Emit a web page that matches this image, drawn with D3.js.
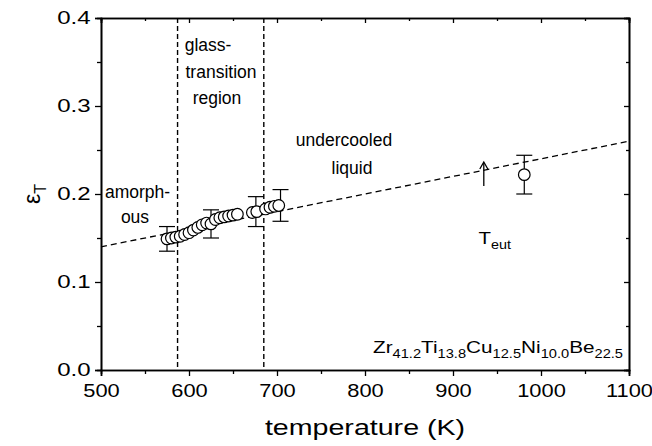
<!doctype html>
<html>
<head>
<meta charset="UTF-8">
<script src="https://d3js.org/d3.v7.min.js"></script>
<style>
	body { margin: 0; background: #fff; }
	svg text { font-family: "Liberation Sans", Arial, sans-serif; fill: #000; }
</style>
</head>
<body>
	<svg id="chartWrapper"></svg>

	<script>
		// measured points
		const temps = [575, 580, 585, 590, 595, 600, 605, 610, 615, 620, 625, 630, 635, 640, 645, 650, 655,
		               672, 677, 687, 692, 697, 702, 981];
		const eps   = [0.149, 0.150, 0.151, 0.152, 0.154, 0.156, 0.159, 0.162, 0.165, 0.167, 0.166, 0.171, 0.173, 0.174, 0.175, 0.176, 0.177,
		               0.179, 0.180, 0.183, 0.185, 0.186, 0.187, 0.222];
		// error bars: temperature, value, half width
		const errT   = [575, 625, 676, 704, 981];
		const errVal = [0.149, 0.166, 0.180, 0.187, 0.222];
		const errHalf = [0.014, 0.016, 0.017, 0.018, 0.022];
		// linear fit ends and region borders
		const fitT = [500, 1100];
		const fitEps = [0.140, 0.260];
		const borders = [587, 685];
		const xTicks = [500, 600, 700, 800, 900, 1000, 1100];
		const yTicks = [0.0, 0.1, 0.2, 0.3, 0.4];

		(function(){
			let margin = {top: 18, right: 23, bottom: 76, left: 101},
				width = 652 - margin.left - margin.right,
				height = 446 - margin.top - margin.bottom;

			let xSca = d3.scaleLinear().domain([500, 1100]).range([0, width]);
			let ySca = d3.scaleLinear().domain([0, 0.4]).range([height, 0]);

			let svg = d3.select("#chartWrapper")
						.attr("width", 652)
						.attr("height", 446);
			let chart = svg.append("g")
						.attr("transform", "translate(" + margin.left + "," + margin.top + ")");

			let minorX = d3.range(550, 1100, 100);
			let minorY = d3.range(0.05, 0.4, 0.1);

			// bottom axis
			let gx = chart.append("g")
				.attr("transform", "translate(0," + height + ")")
				.call(d3.axisBottom(xSca).tickValues(xTicks).tickSize(6).tickFormat(d3.format("d")));
			gx.append("g").call(d3.axisBottom(xSca).tickValues(minorX).tickSize(4).tickFormat(""));
			// left axis
			let gy = chart.append("g")
				.call(d3.axisLeft(ySca).tickValues(yTicks).tickSize(6).tickFormat(d3.format(".1f")));
			gy.append("g").call(d3.axisLeft(ySca).tickValues(minorY).tickSize(4).tickFormat(""));
			// top and right frame, ticks inside
			chart.append("g").call(d3.axisBottom(xSca).tickValues(xTicks).tickSize(5).tickFormat(""));
			chart.append("g").call(d3.axisBottom(xSca).tickValues(minorX).tickSize(3).tickFormat(""));
			chart.append("g").attr("transform", "translate(" + width + ",0)")
				.call(d3.axisLeft(ySca).tickValues(yTicks).tickSize(5).tickFormat(""));
			chart.append("g").attr("transform", "translate(" + width + ",0)")
				.call(d3.axisLeft(ySca).tickValues(minorY).tickSize(3).tickFormat(""));

			chart.selectAll(".domain").attr("stroke", "#000").attr("stroke-width", 1.6);
			chart.selectAll(".tick line").attr("stroke", "#000").attr("stroke-width", 1.3);
			gx.selectAll(".tick text").style("font-size", "17.5px").attr("transform", "scale(1.25,1)")
				.attr("y", 10).attr("dy", "0.95em");
			gy.selectAll(".tick text").style("font-size", "18.5px").attr("transform", "scale(1.3,1)")
				.attr("x", -8);

			// region borders
			chart.selectAll(".border")
				.data(borders)
				.enter().append("line")
				.attr("x1", d => xSca(d)).attr("x2", d => xSca(d))
				.attr("y1", 0).attr("y2", height)
				.attr("stroke", "#000").attr("stroke-width", 1.4)
				.attr("stroke-dasharray", "5,3");

			// fit line
			chart.append("line")
				.attr("x1", xSca(fitT[0])).attr("y1", ySca(fitEps[0]))
				.attr("x2", xSca(fitT[1])).attr("y2", ySca(fitEps[1]))
				.attr("stroke", "#000").attr("stroke-width", 1.3)
				.attr("stroke-dasharray", "6,4");

			// error bars
			let eb = chart.selectAll(".err")
				.data(errT.map((t, i) => [t, errVal[i], errHalf[i]]))
				.enter().append("g").attr("class", "err");
			eb.append("line")
				.attr("x1", d => xSca(d[0])).attr("x2", d => xSca(d[0]))
				.attr("y1", d => ySca(d[1] - d[2])).attr("y2", d => ySca(d[1] + d[2]))
				.attr("stroke", "#000").attr("stroke-width", 1.2);
			[-1, 1].forEach(s => {
				eb.append("line")
					.attr("x1", d => xSca(d[0]) - 8).attr("x2", d => xSca(d[0]) + 8)
					.attr("y1", d => ySca(d[1] + s * d[2])).attr("y2", d => ySca(d[1] + s * d[2]))
					.attr("stroke", "#000").attr("stroke-width", 1.2);
			});

			// points
			chart.selectAll(".pt")
				.data(temps.map((t, i) => [t, eps[i]]))
				.enter().append("circle")
				.attr("class", "pt")
				.attr("cx", d => xSca(d[0]))
				.attr("cy", d => ySca(d[1]))
				.attr("r", 5.8)
				.attr("fill", "#fff")
				.attr("stroke", "#000")
				.attr("stroke-width", 1.2);

			// annotations
			let note = function(x, y, txt, anchor){
				chart.append("text")
					.attr("x", x).attr("y", y)
					.attr("text-anchor", anchor || "start")
					.style("font-size", "17.5px")
					.text(txt);
			};
			note(4, 180, "amorph-");
			note(34, 205, "ous", "middle");
			note(107, 33, "glass-", "middle");
			note(120, 60, "transition", "middle");
			note(116, 86, "region", "middle");
			note(243, 128, "undercooled", "middle");
			note(251, 156, "liquid", "middle");

			// arrow pointing at the eutectic temperature
			let ax = xSca(935);
			chart.append("line")
				.attr("x1", ax).attr("x2", ax).attr("y1", 145).attr("y2", 168)
				.attr("stroke", "#000").attr("stroke-width", 1.3);
			chart.append("path")
				.attr("d", "M" + (ax - 4) + ",151 L" + ax + ",144 L" + (ax + 4) + ",151")
				.attr("fill", "none").attr("stroke", "#000").attr("stroke-width", 1.3);

			let teut = chart.append("text")
				.attr("transform", "translate(" + xSca(929) + ",226) scale(1.2,1)")
				.style("font-size", "17px");
			teut.append("tspan").text("T");
			teut.append("tspan").attr("dy", 5).style("font-size", "12px").text("eut");

			let alloy = chart.append("text")
				.attr("transform", "translate(" + (width - 6) + "," + (height - 12) + ") scale(1.22,1)")
				.attr("text-anchor", "end")
				.style("font-size", "17px");
			[["Zr", "41.2"], ["Ti", "13.8"], ["Cu", "12.5"], ["Ni", "10.0"], ["Be", "22.5"]].forEach(p => {
				alloy.append("tspan").attr("dy", -5).text(p[0]);
				alloy.append("tspan").attr("dy", 5).style("font-size", "12px").text(p[1]);
			});

			// axis titles
			svg.append("text")
				.attr("transform", "translate(" + (margin.left + width / 2) + ",435) scale(1.3,1)")
				.attr("text-anchor", "middle")
				.style("font-size", "22px")
				.text("temperature (K)");

			let yl = svg.append("text")
				.attr("transform", "translate(40," + (margin.top + height / 2) + ") rotate(-90)")
				.attr("text-anchor", "middle")
				.style("font-size", "23px");
			yl.append("tspan").text("\u03b5");
			yl.append("tspan").attr("dy", 6).style("font-size", "16px").text("T");
		})();
	</script>
</body>
</html>
